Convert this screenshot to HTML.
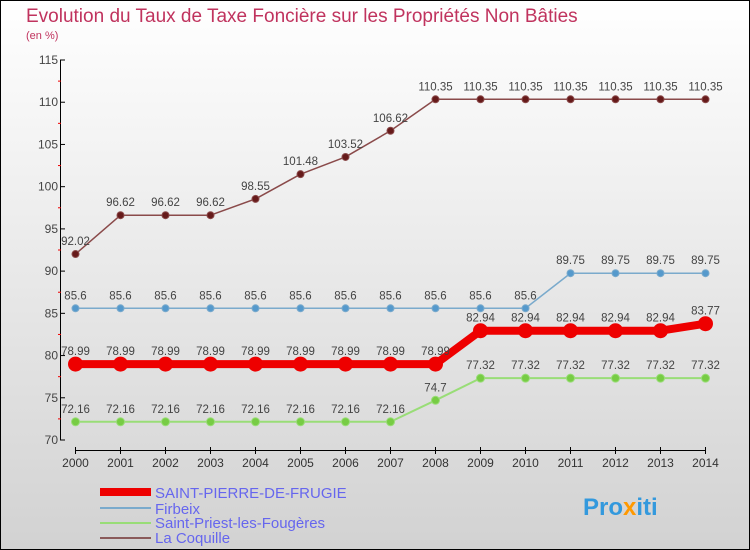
<!DOCTYPE html>
<html><head><meta charset="utf-8"><style>
body{margin:0;}
#wrap{width:750px;height:550px;position:relative;overflow:hidden;}
svg{display:block;font-family:"Liberation Sans",sans-serif;}
</style></head><body>
<div id="wrap">
<svg id="chart" width="750" height="550" xmlns="http://www.w3.org/2000/svg">
<defs><linearGradient id="bg" x1="0" y1="0" x2="0" y2="1"><stop offset="0" stop-color="#ffffff"/><stop offset="1" stop-color="#d2d2d2"/></linearGradient></defs>
<rect x="0.5" y="0.5" width="749" height="549" fill="url(#bg)" stroke="#000"/>
<text x="26" y="22" font-size="19" fill="#c0335e">Evolution du Taux de Taxe Foncière sur les Propriétés Non Bâties</text>
<text x="26" y="39" font-size="11" fill="#c0335e">(en %)</text>
<g id="axes"></g><g id="series"></g>
<g>
<line x1="100" y1="492" x2="151" y2="492" stroke="#e00" stroke-width="8"/>
<text x="155" y="498" font-size="15" fill="#6666ee">SAINT-PIERRE-DE-FRUGIE</text>
<line x1="100" y1="508" x2="151" y2="508" stroke="#7aaacc" stroke-width="2"/>
<text x="155" y="514" font-size="15" fill="#6666ee">Firbeix</text>
<line x1="100" y1="523" x2="151" y2="523" stroke="#99dd77" stroke-width="2"/>
<text x="155" y="528" font-size="15" fill="#6666ee">Saint-Priest-les-Fougères</text>
<line x1="100" y1="538" x2="151" y2="538" stroke="#8a5a5a" stroke-width="2"/>
<text x="155" y="543" font-size="15" fill="#6666ee">La Coquille</text>
</g>
<text x="583" y="515" font-size="24" font-weight="bold" fill="#3399dd">Pro<tspan fill="#ff9900">x</tspan>iti</text>
</svg></div>
<script>
const years=[2000,2001,2002,2003,2004,2005,2006,2007,2008,2009,2010,2011,2012,2013,2014];
const yTicks=[70,75,80,85,90,95,100,105,110,115];
const coquille=[92.02,96.62,96.62,96.62,98.55,101.48,103.52,106.62,110.35,110.35,110.35,110.35,110.35,110.35,110.35];
const firbeix=[85.6,85.6,85.6,85.6,85.6,85.6,85.6,85.6,85.6,85.6,85.6,89.75,89.75,89.75,89.75];
const stPierre=[78.99,78.99,78.99,78.99,78.99,78.99,78.99,78.99,78.99,82.94,82.94,82.94,82.94,82.94,83.77];
const stPriest=[72.16,72.16,72.16,72.16,72.16,72.16,72.16,72.16,74.7,77.32,77.32,77.32,77.32,77.32,77.32];
const NS="http://www.w3.org/2000/svg";
const xs=i=>75.5+i*45;
const ys=v=>440-(v-70)*380/45;
const ax=document.getElementById('axes'),sg=document.getElementById('series');
function mk(tag,at,par){const e=document.createElementNS(NS,tag);for(const k in at)e.setAttribute(k,at[k]);par.appendChild(e);return e;}
let yl=mk('line',{x1:60.5,y1:ys(115),x2:60.5,y2:ys(70),stroke:'#000'},ax);


let xl=mk('line',{x1:xs(0),y1:450.5,x2:xs(14),y2:450.5,stroke:'#000'},ax);


yTicks.forEach(v=>{
  mk('line',{x1:60,y1:ys(v),x2:65,y2:ys(v),stroke:'#000'},ax);
  if(v<115)mk('line',{x1:58,y1:ys(v+2.5),x2:61,y2:ys(v+2.5),stroke:'#e00'},ax);
  const t=mk('text',{x:58,y:ys(v)+4,'font-size':12,fill:'#444','text-anchor':'end'},ax);
  t.textContent=v;
  
  
});
years.forEach((y,i)=>{
  mk('line',{x1:xs(i),y1:447,x2:xs(i),y2:454,stroke:'#000'},ax);
  const t=mk('text',{x:xs(i),y:467,'font-size':12,fill:'#333','text-anchor':'middle'},ax);
  t.textContent=y;
  
  
});
function series(vals,color,w,r,name,fill){
  const g=mk('g',{},sg);
  
  
  mk('polyline',{points:vals.map((v,i)=>xs(i)+','+ys(v)).join(' '),fill:'none',stroke:color,'stroke-width':w,'stroke-linejoin':'round'},g);
  vals.forEach((v,i)=>{
    const c=mk('circle',{cx:xs(i),cy:ys(v),r:r,fill:fill,stroke:color,'stroke-width':1},g);
    
    
    const t=mk('text',{x:xs(i),y:ys(v)-9,'font-size':11.5,fill:'#444','text-anchor':'middle'},g);
    t.textContent=v;
    
    
  });
}
series(stPriest,'#99dd77',2,4,'saint-priest-series','#77cc44');
series(firbeix,'#7aaacc',1.5,3.5,'firbeix-series','#5599cc');
series(coquille,'#8a4a4a',1.5,3.5,'la-coquille-series','#661a1a');
series(stPierre,'#ee0000',8,7,'saint-pierre-series','#ee0000');
</script>
</body></html>
